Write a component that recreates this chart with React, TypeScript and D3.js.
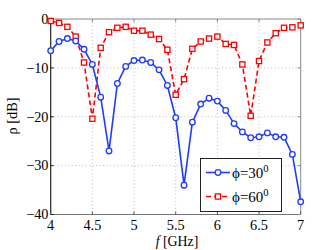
import React from "react";
import * as d3 from "d3";

const freqs = [4.0, 4.1, 4.2, 4.3, 4.4, 4.5, 4.6, 4.7, 4.8, 4.9, 5.0, 5.1, 5.2, 5.3, 5.4, 5.5, 5.6, 5.7, 5.8, 5.9, 6.0, 6.1, 6.2, 6.3, 6.4, 6.5, 6.6, 6.7, 6.8, 6.9, 7.0];
const phi30 = [-6.5, -4.6, -4.0, -4.5, -6.2, -9.3, -16.0, -27.0, -13.2, -9.7, -8.5, -8.4, -8.9, -10.4, -13.6, -20.2, -34.0, -21.1, -17.4, -16.2, -16.8, -18.7, -21.4, -23.1, -24.3, -24.1, -23.3, -24.1, -24.2, -27.7, -37.4];
const phi60 = [-0.4, -0.8, -1.6, -3.6, -8.9, -20.4, -5.9, -2.7, -1.8, -1.6, -2.4, -2.4, -3.2, -4.1, -6.3, -15.5, -12.3, -6.1, -4.6, -4.0, -3.6, -5.1, -5.3, -9.3, -19.8, -8.6, -4.8, -2.9, -1.8, -1.7, -1.3];
const xTicks = [4, 4.5, 5, 5.5, 6, 6.5, 7];
const xTickLabels = ["4", "4.5", "5", "5.5", "6", "6.5", "7"];
const yTicks = [0, -10, -20, -30, -40];
const yTickLabels = ["0", "\u221210", "\u221220", "\u221230", "\u221240"];

const BLUE = "#1f3cff";
const RED = "#ff0000";
const FONT = "Liberation Serif, Times New Roman, serif";

export default function App() {
  const W = 332, H = 250;
  const L = 50.7, R = 300.7, T = 19, B = 214.5;
  const x = d3.scaleLinear().domain([4, 7]).range([L, R]);
  const y = d3.scaleLinear().domain([-40, 0]).range([B, T]);
  const line = d3.line<number>().x((_, i) => x(freqs[i])).y((d) => y(d));

  return (
    <svg width={W} height={H} style={{ position: "absolute", left: 0, top: 0, background: "#fff", fontFamily: FONT }}>
      <rect x={0} y={0} width={W} height={H} fill="#fff" />
      {/* grid */}
      {xTicks.slice(1, -1).map((t) => (
        <line key={"gx" + t} x1={x(t)} x2={x(t)} y1={T} y2={B} stroke="#b0b0b0" strokeWidth={0.8} strokeDasharray="1,2.5" />
      ))}
      {yTicks.slice(1, -1).map((t) => (
        <line key={"gy" + t} x1={L} x2={R} y1={y(t)} y2={y(t)} stroke="#b0b0b0" strokeWidth={0.8} strokeDasharray="1,2.5" />
      ))}
      {/* frame */}
      <line x1={L} x2={R} y1={T} y2={T} stroke="#888" strokeWidth={1} />
      <line x1={R} x2={R} y1={T} y2={B} stroke="#888" strokeWidth={1} />
      <line x1={L} x2={R} y1={B} y2={B} stroke="#777" strokeWidth={1.2} />
      <line x1={L} x2={L} y1={T} y2={B} stroke="#222" strokeWidth={1.2} />
      {/* ticks */}
      {xTicks.map((t) => (
        <g key={"tx" + t}>
          <line x1={x(t)} x2={x(t)} y1={B} y2={B - 3} stroke="#555" />
          <line x1={x(t)} x2={x(t)} y1={T} y2={T + 3} stroke="#888" />
        </g>
      ))}
      {yTicks.map((t) => (
        <g key={"ty" + t}>
          <line x1={L} x2={L + 3} y1={y(t)} y2={y(t)} stroke="#222" />
          <line x1={R} x2={R - 3} y1={y(t)} y2={y(t)} stroke="#888" />
        </g>
      ))}
      {xTicks.map((t, i) => (
        <text key={"lx" + t} x={x(t)} y={230} fontSize={14.3} textAnchor="middle" fill="#000" fontFamily={FONT}>{xTickLabels[i]}</text>
      ))}
      {yTicks.map((t, i) => (
        <text key={"ly" + t} x={48.5} y={y(t) + 4.8} fontSize={14.3} textAnchor="end" fill="#000" fontFamily={FONT}>{yTickLabels[i]}</text>
      ))}
      {/* axis labels */}
      <text x={177} y={246} fontSize={13.8} textAnchor="middle" fill="#000" fontFamily={FONT}>
        <tspan fontStyle="italic">f</tspan> [GHz]
      </text>
      <text transform={`translate(17,116) rotate(-90)`} fontSize={14.3} textAnchor="middle" fill="#000" fontFamily={FONT}>ρ [dB]</text>
      {/* series */}
      <path d={line(phi60) || ""} fill="none" stroke={RED} strokeWidth={1.6} strokeDasharray="5,3" />
      <path d={line(phi30) || ""} fill="none" stroke={BLUE} strokeWidth={1.6} />
      {phi60.map((v, i) => (
        <rect key={"r" + i} x={x(freqs[i]) - 2.6} y={y(v) - 2.6} width={5.2} height={5.2} fill="#fff" stroke={RED} strokeWidth={1.3} />
      ))}
      {phi30.map((v, i) => (
        <circle key={"c" + i} cx={x(freqs[i])} cy={y(v)} r={2.8} fill="#fff" stroke={BLUE} strokeWidth={1.3} />
      ))}
      {/* legend */}
      <rect x={200.5} y={158.5} width={81} height={53} fill="#fff" stroke="#222" strokeWidth={1} />
      <line x1={206} x2={230} y1={172.5} y2={172.5} stroke={BLUE} strokeWidth={1.6} />
      <circle cx={218} cy={172.5} r={2.8} fill="#fff" stroke={BLUE} strokeWidth={1.3} />
      <text x={232} y={178} fontSize={15} fill="#000" fontFamily={FONT}>ϕ=30<tspan dy={-6.5} fontSize={10.5}>0</tspan></text>
      <line x1={206} x2={230} y1={196.5} y2={196.5} stroke={RED} strokeWidth={1.6} strokeDasharray="5,3" />
      <rect x={215.4} y={193.9} width={5.2} height={5.2} fill="#fff" stroke={RED} strokeWidth={1.3} />
      <text x={232} y={202} fontSize={15} fill="#000" fontFamily={FONT}>ϕ=60<tspan dy={-6.5} fontSize={10.5}>0</tspan></text>
    </svg>
  );
}
